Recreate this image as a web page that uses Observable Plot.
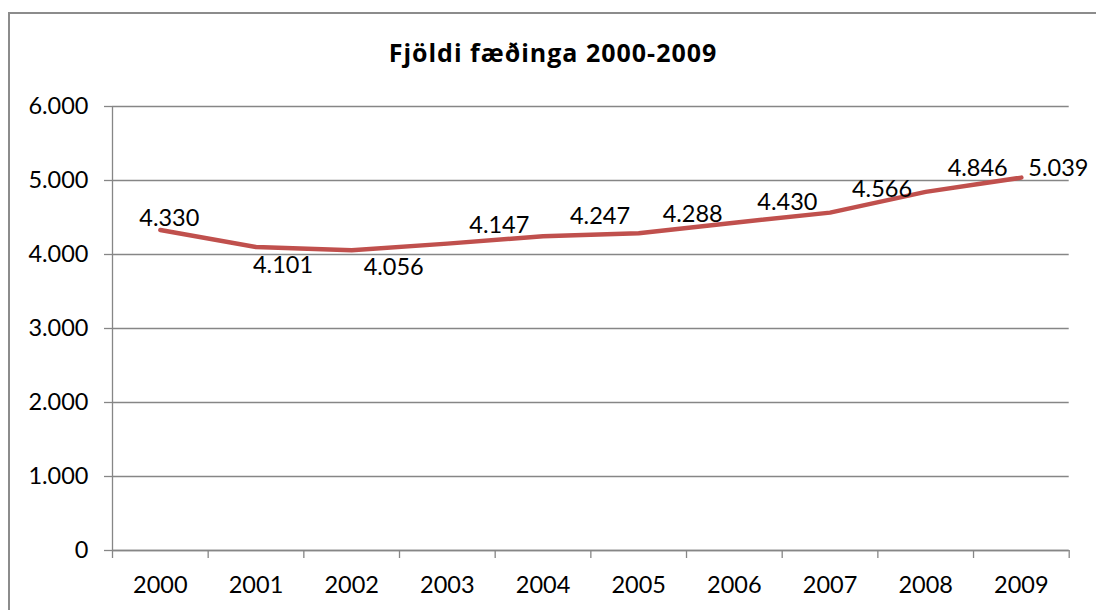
<!DOCTYPE html>
<html>
<head>
<meta charset="utf-8">
<script src="https://cdn.jsdelivr.net/npm/d3@7"></script>
<script src="https://cdn.jsdelivr.net/npm/@observablehq/plot@0.6"></script>
<style>
  html, body { margin: 0; padding: 0; background: #fff; }
  #wrap { position: relative; width: 1096px; height: 610px; overflow: hidden; background: #fff; }
  #border { position: absolute; left: 8px; top: 12px; width: 1200px; height: 800px; border: 2px solid #8c8c8c; }
  #title { position: absolute; left: 0; top: 40px; width: 1106px; text-align: center; font: bold 25px "Open Sans", sans-serif; letter-spacing: 1px; line-height: 1; color: #000; }
  #chart { position: absolute; left: 0; top: 80px; }
</style>
</head>
<body>
<div id="wrap">
  <div id="border"></div>
  <div id="title">Fjöldi fæðinga 2000-2009</div>
  <div id="chart"></div>
</div>
<script>
// ---- data ----
const years = [2000, 2001, 2002, 2003, 2004, 2005, 2006, 2007, 2008, 2009];
const births = [4330, 4101, 4056, 4147, 4247, 4288, 4430, 4566, 4846, 5039];
const yTicks = [0, 1000, 2000, 3000, 4000, 5000, 6000];

// ---- label placement (layout only, pixel offsets from each point) ----
const labelOffsets = [[9, -12], [27, 18], [42, 17], [52, -18], [57, -20], [54, -19], [53, -20], [52, -23], [52, -23], [37, -9]];

const isLocale = d3.formatLocale({decimal: ",", thousands: ".", grouping: [3], currency: ["", " kr."]});
const fmt = isLocale.format(",d");

const data = years.map((y, i) => ({year: y, value: births[i]}));
const bounds = [...years.map(y => y - 0.5), years[years.length - 1] + 0.5];

const grey = "#868686";
const fs = 23.5;

const labelMarks = data.map((d, i) => Plot.text([d], {
  x: "year", y: "value", text: d => fmt(d.value),
  dx: labelOffsets[i][0], dy: labelOffsets[i][1],
  fontSize: fs, fill: "#000", textAnchor: "middle", lineAnchor: "middle"
}));

const chart = Plot.plot({
  width: 1096,
  height: 530,
  marginLeft: 112,
  marginRight: 27.3,
  marginTop: 26,
  marginBottom: 60,
  style: {fontFamily: "Lato, sans-serif", fontSize: fs + "px", background: "transparent", color: "#000"},
  x: {type: "linear", domain: [bounds[0], bounds[bounds.length - 1]], label: null},
  y: {domain: [0, 6000], label: null},
  marks: [
    Plot.gridY(yTicks, {stroke: grey, strokeOpacity: 1, strokeWidth: 1.3}),
    Plot.ruleX([bounds[0]], {stroke: grey, strokeWidth: 1.3}),
    Plot.ruleY([0], {stroke: grey, strokeWidth: 1.3}),
    Plot.axisY(yTicks, {label: null, tickSize: 8, tickPadding: 16, tickFormat: fmt, fontSize: fs, fill: "#000", stroke: grey, strokeWidth: 1.3}),
    Plot.axisX(bounds, {label: null, tickSize: 8, tickFormat: () => "", stroke: grey, strokeWidth: 1.3}),
    Plot.axisX(years, {label: null, tickSize: 0, tickPadding: 26, tickFormat: d => String(d), fontSize: fs, fill: "#000"}),
    Plot.line(data, {x: "year", y: "value", stroke: "#C0504D", strokeWidth: 4.5, strokeLinejoin: "round", strokeLinecap: "round"}),
    ...labelMarks
  ]
});
document.getElementById("chart").appendChild(chart);
</script>
</body>
</html>
